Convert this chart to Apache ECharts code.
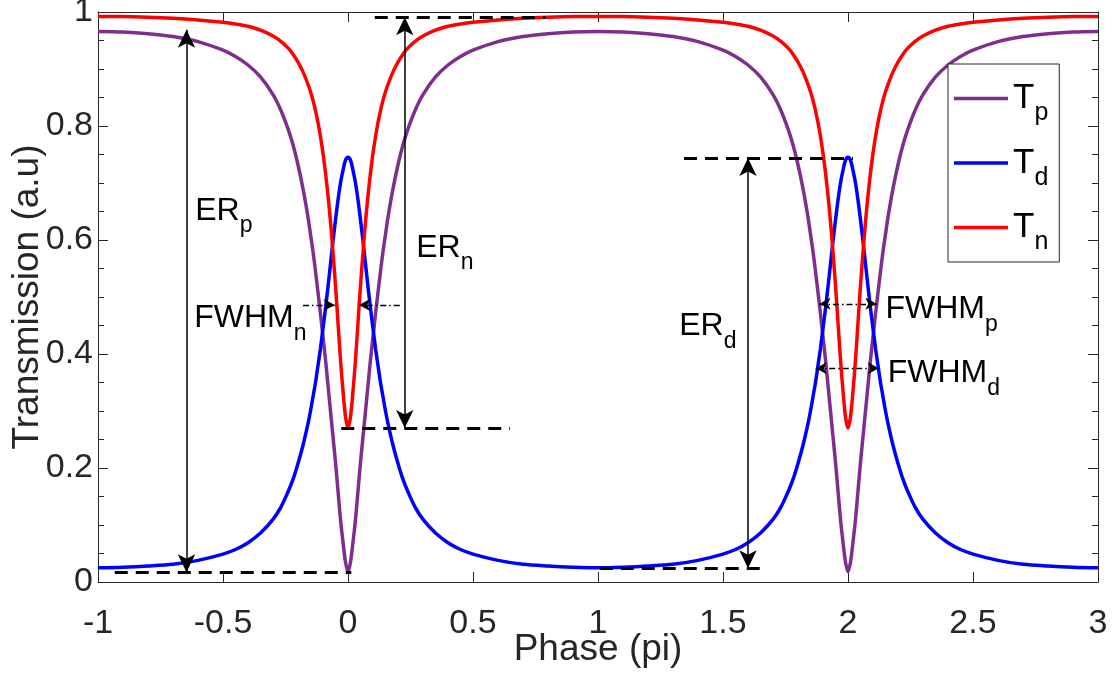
<!DOCTYPE html>
<html>
<head>
<meta charset="utf-8">
<script src="https://cdn.jsdelivr.net/npm/echarts@6/dist/echarts.min.js"></script>
<style>
  html, body { margin: 0; padding: 0; background: #fff; }
  #chart { width: 1115px; height: 675px; }
</style>
</head>
<body>
<div id="chart"></div>
<script>
// Phase axis samples (units of pi), denser around the resonances at 0 and 2
const phase = [
  -1, -0.9, -0.8, -0.7, -0.6, -0.5, -0.45, -0.4, -0.35, -0.3, -0.27, -0.24, -0.22, -0.2, -0.18, -0.16,
  -0.15, -0.14, -0.13, -0.12, -0.11, -0.1, -0.09, -0.08, -0.07, -0.06, -0.05, -0.04, -0.03, -0.02, -0.01, 0,
  0.01, 0.02, 0.03, 0.04, 0.05, 0.06, 0.07, 0.08, 0.09, 0.1, 0.11, 0.12, 0.13, 0.14, 0.15, 0.16,
  0.18, 0.2, 0.22, 0.24, 0.27, 0.3, 0.35, 0.4, 0.45, 0.5, 0.6, 0.7, 0.8, 0.9, 1,
  1.1, 1.2, 1.3, 1.4, 1.5, 1.55, 1.6, 1.65, 1.7, 1.73, 1.76, 1.78, 1.8, 1.82, 1.84, 1.85,
  1.86, 1.87, 1.88, 1.89, 1.9, 1.91, 1.92, 1.93, 1.94, 1.95, 1.96, 1.97, 1.98, 1.99, 2,
  2.01, 2.02, 2.03, 2.04, 2.05, 2.06, 2.07, 2.08, 2.09, 2.1, 2.11, 2.12, 2.13, 2.14, 2.15, 2.16,
  2.18, 2.2, 2.22, 2.24, 2.27, 2.3, 2.35, 2.4, 2.45, 2.5, 2.6, 2.7, 2.8, 2.9, 3
];

// Through-port transmission Tp
const transP = [
  0.966, 0.965, 0.962, 0.957, 0.948, 0.933, 0.922, 0.907, 0.886, 0.855, 0.829, 0.795, 0.767, 0.732, 0.690, 0.640,
  0.610, 0.580, 0.545, 0.508, 0.470, 0.430, 0.390, 0.345, 0.300, 0.255, 0.210, 0.160, 0.110, 0.070, 0.035, 0.018,
  0.035, 0.070, 0.110, 0.160, 0.210, 0.255, 0.300, 0.345, 0.390, 0.430, 0.470, 0.508, 0.545, 0.580, 0.610, 0.640,
  0.690, 0.732, 0.767, 0.795, 0.829, 0.855, 0.886, 0.907, 0.922, 0.933, 0.948, 0.957, 0.962, 0.965, 0.966,
  0.965, 0.962, 0.957, 0.948, 0.933, 0.922, 0.907, 0.886, 0.855, 0.829, 0.795, 0.767, 0.732, 0.690, 0.640, 0.610,
  0.580, 0.545, 0.508, 0.470, 0.430, 0.390, 0.345, 0.300, 0.255, 0.210, 0.160, 0.110, 0.070, 0.035, 0.018,
  0.035, 0.070, 0.110, 0.160, 0.210, 0.255, 0.300, 0.345, 0.390, 0.430, 0.470, 0.508, 0.545, 0.580, 0.610, 0.640,
  0.690, 0.732, 0.767, 0.795, 0.829, 0.855, 0.886, 0.907, 0.922, 0.933, 0.948, 0.957, 0.962, 0.965, 0.966
];

// Drop-port transmission Td
const transD = [
  0.025, 0.026, 0.028, 0.031, 0.038, 0.049, 0.057, 0.069, 0.086, 0.110, 0.130, 0.158, 0.180, 0.208, 0.240, 0.278,
  0.300, 0.325, 0.350, 0.380, 0.410, 0.445, 0.480, 0.518, 0.558, 0.598, 0.635, 0.670, 0.700, 0.722, 0.740, 0.745,
  0.740, 0.722, 0.700, 0.670, 0.635, 0.598, 0.558, 0.518, 0.480, 0.445, 0.410, 0.380, 0.350, 0.325, 0.300, 0.278,
  0.240, 0.208, 0.180, 0.158, 0.130, 0.110, 0.086, 0.069, 0.057, 0.049, 0.038, 0.031, 0.028, 0.026, 0.025,
  0.026, 0.028, 0.031, 0.038, 0.049, 0.057, 0.069, 0.086, 0.110, 0.130, 0.158, 0.180, 0.208, 0.240, 0.278, 0.300,
  0.325, 0.350, 0.380, 0.410, 0.445, 0.480, 0.518, 0.558, 0.598, 0.635, 0.670, 0.700, 0.722, 0.740, 0.745,
  0.740, 0.722, 0.700, 0.670, 0.635, 0.598, 0.558, 0.518, 0.480, 0.445, 0.410, 0.380, 0.350, 0.325, 0.300, 0.278,
  0.240, 0.208, 0.180, 0.158, 0.130, 0.110, 0.086, 0.069, 0.057, 0.049, 0.038, 0.031, 0.028, 0.026, 0.025
];

// Notch transmission Tn
const transN = [
  0.992, 0.992, 0.991, 0.989, 0.986, 0.982, 0.979, 0.975, 0.968, 0.958, 0.949, 0.937, 0.926, 0.912, 0.895, 0.873,
  0.860, 0.845, 0.827, 0.806, 0.781, 0.752, 0.718, 0.678, 0.632, 0.578, 0.520, 0.455, 0.390, 0.335, 0.290, 0.270,
  0.290, 0.335, 0.390, 0.455, 0.520, 0.578, 0.632, 0.678, 0.718, 0.752, 0.781, 0.806, 0.827, 0.845, 0.860, 0.873,
  0.895, 0.912, 0.926, 0.937, 0.949, 0.958, 0.968, 0.975, 0.979, 0.982, 0.986, 0.989, 0.991, 0.992, 0.992,
  0.992, 0.991, 0.989, 0.986, 0.982, 0.979, 0.975, 0.968, 0.958, 0.949, 0.937, 0.926, 0.912, 0.895, 0.873, 0.860,
  0.845, 0.827, 0.806, 0.781, 0.752, 0.718, 0.678, 0.632, 0.578, 0.520, 0.455, 0.390, 0.335, 0.290, 0.270,
  0.290, 0.335, 0.390, 0.455, 0.520, 0.578, 0.632, 0.678, 0.718, 0.752, 0.781, 0.806, 0.827, 0.845, 0.860, 0.873,
  0.895, 0.912, 0.926, 0.937, 0.949, 0.958, 0.968, 0.975, 0.979, 0.982, 0.986, 0.989, 0.991, 0.992, 0.992
];

const seriesNames = ['T_p', 'T_d', 'T_n'];
const xTicks = [-1, -0.5, 0, 0.5, 1, 1.5, 2, 2.5, 3];
const yTicks = [0, 0.2, 0.4, 0.6, 0.8, 1];

// Dashed guide levels: [level, phase from, phase to]
const guideLevels = [
  [0.969, -1.012, -0.06],
  [0.991, 0.107, 0.79],
  [0.270, -0.027, 0.648],
  [0.017, -0.933, 0.013],
  [0.744, 1.344, 2.02],
  [0.024, 1.007, 1.667]
];
// Extinction-ratio arrows: [phase, upper level, lower level]
const erArrows = [
  [-0.646, 0.969, 0.017],
  [0.227, 0.991, 0.270],
  [1.6, 0.744, 0.024]
];
// Linewidth markers: [level, from, to, arrow at start, arrow at end]
const fwhmArrows = [
  [0.486, -0.18, -0.053, false, true],
  [0.486, 0.207, 0.044, false, true],
  [0.488, 1.886, 2.114, true, true],
  [0.375, 1.871, 2.123, true, true]
];
// Annotation text: [phase, level, main, subscript]
const notes = [
  [-0.613, 0.651, 'ER', 'p'],
  [0.271, 0.586, 'ER', 'n'],
  [1.323, 0.448, 'ER', 'd'],
  [-0.617, 0.462, 'FWHM', 'n'],
  [2.148, 0.478, 'FWHM', 'p'],
  [2.157, 0.366, 'FWHM', 'd']
];

const FONT = 'Liberation Sans, Arial, Helvetica, sans-serif';
const AXIS_COLOR = '#262626';
const colors = ['#7E2F8E', '#0000FF', '#FF0000'];
const curves = [transP, transD, transN];

const chart = echarts.init(document.getElementById('chart'), null, { renderer: 'canvas' });

const tickFmt = v => {
  const hit = xTicks.concat(yTicks).find(t => Math.abs(t - v) < 1e-9);
  return hit === undefined ? '' : String(hit);
};

const baseX = {
  type: 'value', min: -1, max: 3, interval: 0.5,
  axisLine: { show: true, onZero: false, lineStyle: { color: AXIS_COLOR, width: 1 } },
  axisTick: { show: true, inside: true, length: 10, lineStyle: { color: AXIS_COLOR, width: 1 } },
  splitLine: { show: false }
};
const baseY = {
  type: 'value', min: 0, max: 1, interval: 0.2,
  axisLine: { show: true, onZero: false, lineStyle: { color: AXIS_COLOR, width: 1 } },
  axisTick: { show: true, inside: true, length: 10, lineStyle: { color: AXIS_COLOR, width: 1 } },
  minorTick: { show: true, splitNumber: 4, length: 6, lineStyle: { color: AXIS_COLOR, width: 1 } },
  splitLine: { show: false },
  minorSplitLine: { show: false }
};

const lineSeries = seriesNames.map((name, k) => ({
  name: name,
  type: 'line',
  data: phase.map((x, i) => [x, curves[k][i]]),
  showSymbol: false,
  smooth: 0.3,
  lineStyle: { color: colors[k], width: 3.5 },
  itemStyle: { color: colors[k] },
  animation: false,
  z: 2 + k
}));

const markLines = [];
guideLevels.forEach(g => {
  markLines.push([
    { coord: [g[1], g[0]], symbol: 'none' },
    { coord: [g[2], g[0]], symbol: 'none', lineStyle: { color: '#000', width: 3, type: [13, 8] } }
  ]);
});
erArrows.forEach(a => {
  markLines.push([
    { coord: [a[0], a[1]], symbol: 'arrow', symbolSize: [13, 18] },
    { coord: [a[0], a[2]], symbol: 'arrow', symbolSize: [13, 18], lineStyle: { color: '#000', width: 1.5, type: 'solid' } }
  ]);
});
fwhmArrows.forEach(f => {
  markLines.push([
    { coord: [f[1], f[0]], symbol: f[3] ? 'arrow' : 'none', symbolSize: [9, 11] },
    { coord: [f[2], f[0]], symbol: f[4] ? 'arrow' : 'none', symbolSize: [9, 11], lineStyle: { color: '#000', width: 1.3, type: [6, 3, 1.5, 3] } }
  ]);
});

const noteRich = {
  m: { fontSize: 32, fontFamily: FONT, color: '#000', lineHeight: 36 },
  s: { fontSize: 23, fontFamily: FONT, color: '#000', lineHeight: 36, padding: [30, 0, 0, 0] }
};

const annotationSeries = {
  name: 'annotations',
  type: 'line',
  data: [],
  animation: false,
  silent: true,
  z: 10,
  markLine: {
    silent: true,
    animation: false,
    symbol: ['none', 'none'],
    label: { show: false },
    emphasis: { disabled: true },
    lineStyle: { color: '#000' },
    data: markLines
  },
  markPoint: {
    silent: true,
    animation: false,
    symbol: 'circle',
    symbolSize: 1,
    itemStyle: { color: 'rgba(0,0,0,0)' },
    data: notes.map(n => ({
      coord: [n[0], n[1]],
      label: {
        show: true,
        position: 'right',
        distance: 0,
        formatter: '{m|' + n[2] + '}{s|' + n[3] + '}',
        rich: noteRich
      }
    }))
  }
};

const option = {
  backgroundColor: '#ffffff',
  animation: false,
  grid: { left: 98, right: 17, top: 12, bottom: 93, containLabel: false, outerBoundsMode: 'none' },
  xAxis: [
    Object.assign({}, baseX, {
      position: 'bottom',
      axisLabel: { show: true, fontSize: 34, fontFamily: FONT, color: AXIS_COLOR, margin: 25, formatter: tickFmt },
      name: 'Phase (pi)', nameLocation: 'middle', nameGap: 49, nameMoveOverlap: false,
      nameTextStyle: { fontSize: 37, fontFamily: FONT, color: AXIS_COLOR }
    }),
    Object.assign({}, baseX, { position: 'top', axisLabel: { show: false } })
  ],
  yAxis: [
    Object.assign({}, baseY, {
      position: 'left',
      axisLabel: { show: true, fontSize: 34, fontFamily: FONT, color: AXIS_COLOR, margin: 5, formatter: tickFmt },
      name: 'Transmission (a.u)', nameLocation: 'middle', nameGap: 52, nameMoveOverlap: false,
      nameTextStyle: { fontSize: 37, fontFamily: FONT, color: AXIS_COLOR }
    }),
    Object.assign({}, baseY, { position: 'right', axisLabel: { show: false } })
  ],
  legend: {
    data: seriesNames,
    orient: 'vertical',
    left: 948,
    top: 64,
    icon: 'rect',
    itemWidth: 54,
    itemHeight: 3.5,
    itemGap: 9.5,
    padding: [7, 11, 7, 6],
    borderColor: AXIS_COLOR,
    borderWidth: 1,
    backgroundColor: '#ffffff',
    selectedMode: false,
    formatter: name => '{t|T}{s|' + name.split('_')[1] + '}',
    textStyle: {
      rich: {
        t: { fontSize: 35, fontFamily: FONT, color: '#000', lineHeight: 40 },
        s: { fontSize: 25, fontFamily: FONT, color: '#000', lineHeight: 40, padding: [30, 0, 0, 0] }
      }
    }
  },
  series: lineSeries.concat([annotationSeries])
};

chart.setOption(option);
</script>
</body>
</html>
